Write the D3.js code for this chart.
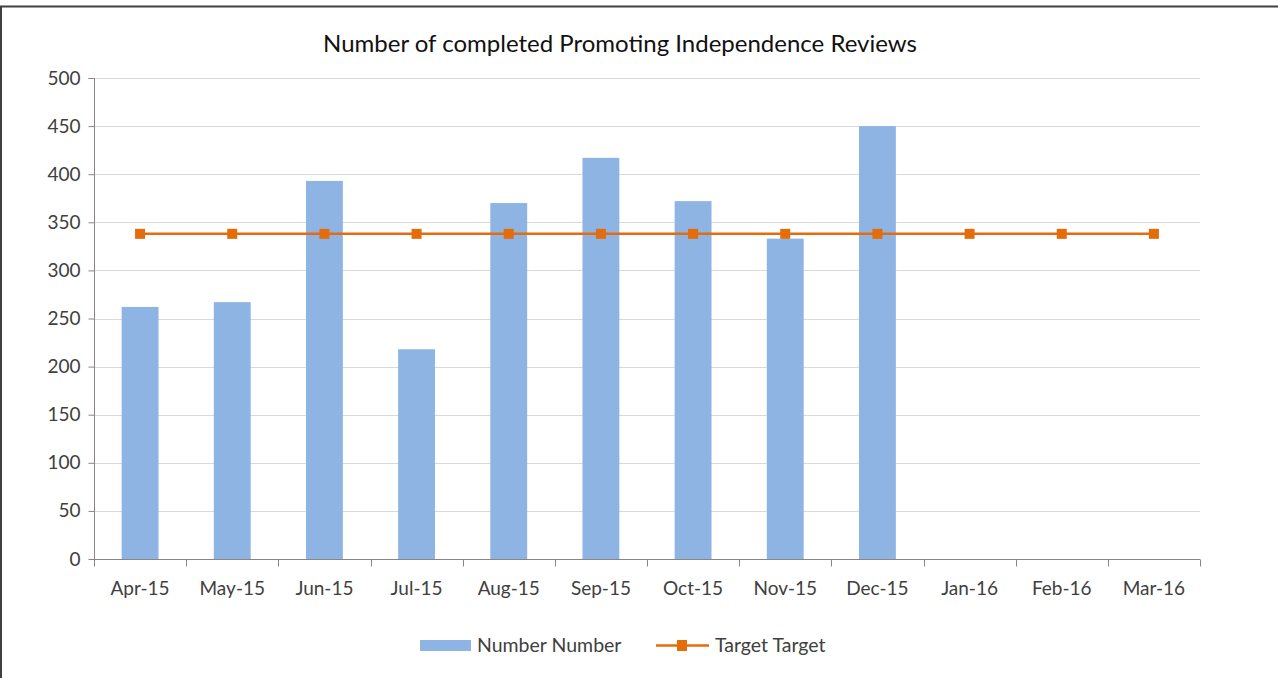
<!DOCTYPE html>
<html>
<head>
    <meta charset="utf-8" />
    <script src="https://d3js.org/d3.v7.min.js"></script>
    <style>
        body { margin: 0; background: #fff; }
        text { font-family: Lato, "Open Sans", sans-serif; fill: #404040; }
    </style>
</head>
<body>
<script>
    var months = ["Apr-15", "May-15", "Jun-15", "Jul-15", "Aug-15", "Sep-15", "Oct-15", "Nov-15", "Dec-15", "Jan-16", "Feb-16", "Mar-16"];
    var numbers = [262, 267, 393, 218, 370, 417, 372, 333, 450, null, null, null];
    var target = [338, 338, 338, 338, 338, 338, 338, 338, 338, 338, 338, 338];
    var yTicks = [0, 50, 100, 150, 200, 250, 300, 350, 400, 450, 500];

    var width = 1278, height = 678;
    var plotL = 94, plotR = 1200, plotT = 78, plotB = 559;

    var svg = d3.select("body").append("svg")
        .attr("width", width)
        .attr("height", height);

    // outer frame
    svg.append("path")
        .attr("d", "M1," + height + "V6.5H" + width)
        .attr("fill", "none")
        .attr("stroke", "#404040")
        .attr("stroke-width", 2);

    var x = d3.scaleBand().domain(months).range([plotL, plotR]).paddingInner(0).paddingOuter(0);
    var y = d3.scaleLinear().domain([0, 500]).range([plotB, plotT]);

    // gridlines
    svg.append("g").selectAll("line").data(yTicks.slice(1)).enter().append("line")
        .attr("x1", plotL).attr("x2", plotR)
        .attr("y1", function (d) { return Math.round(y(d)) + 0.5; })
        .attr("y2", function (d) { return Math.round(y(d)) + 0.5; })
        .attr("stroke", "#d9d9d9").attr("stroke-width", 1);

    // y axis
    var yAxis = svg.append("g")
        .attr("transform", "translate(" + (plotL + 0.5) + ",0)")
        .call(d3.axisLeft(y).tickValues(yTicks).tickSize(6).tickPadding(8));
    yAxis.selectAll("line, path").attr("stroke", "#868686");
    yAxis.select(".domain").attr("d", "M-6," + (plotT + 0.5) + "H0V" + plotB);
    yAxis.selectAll("text").attr("font-size", 19).style("font-family", "Lato, sans-serif").attr("fill", "#404040");

    // bars
    var barW = x.bandwidth() / 2.5;
    svg.append("g").selectAll("rect").data(months.map(function (m, i) { return { m: m, v: numbers[i] }; })
        .filter(function (d) { return d.v != null; }))
        .enter().append("rect")
        .attr("x", function (d) { return x(d.m) + (x.bandwidth() - barW) / 2; })
        .attr("y", function (d) { return y(d.v); })
        .attr("width", barW)
        .attr("height", function (d) { return y(0) - y(d.v); })
        .attr("fill", "#8eb4e3");

    // x axis
    var xAxis = svg.append("g").attr("transform", "translate(0," + (plotB + 0.5) + ")");
    xAxis.append("line").attr("x1", plotL).attr("x2", plotR).attr("stroke", "#868686");
    xAxis.selectAll(".tk").data(d3.range(months.length + 1)).enter().append("line")
        .attr("x1", function (i) { return Math.round(plotL + i * x.step()) + 0.5; })
        .attr("x2", function (i) { return Math.round(plotL + i * x.step()) + 0.5; })
        .attr("y1", 0).attr("y2", 7)
        .attr("stroke", "#868686");
    xAxis.selectAll("text").data(months).enter().append("text")
        .attr("x", function (d) { return x(d) + x.bandwidth() / 2; })
        .attr("y", 35)
        .attr("text-anchor", "middle")
        .attr("font-size", 19)
        .text(function (d) { return d; });

    // target line
    var line = d3.line()
        .x(function (d, i) { return x(months[i]) + x.bandwidth() / 2; })
        .y(function (d) { return y(d); });
    svg.append("path").datum(target)
        .attr("d", line)
        .attr("fill", "none")
        .attr("stroke", "#e46c0a")
        .attr("stroke-width", 2.5);
    svg.append("g").selectAll("rect").data(target).enter().append("rect")
        .attr("x", function (d, i) { return x(months[i]) + x.bandwidth() / 2 - 5; })
        .attr("y", function (d) { return y(d) - 5; })
        .attr("width", 10).attr("height", 10)
        .attr("fill", "#e46c0a");

    // title
    svg.append("text")
        .attr("x", 620).attr("y", 52)
        .attr("text-anchor", "middle")
        .attr("font-size", 24)
        .style("fill", "#111")
        .text("Number of completed Promoting Independence Reviews");

    // legend
    var lg = svg.append("g");
    lg.append("rect").attr("x", 420).attr("y", 640).attr("width", 51).attr("height", 11).attr("fill", "#8eb4e3");
    lg.append("text").attr("x", 477).attr("y", 652).attr("font-size", 19.5).text("Number Number");
    lg.append("line").attr("x1", 656).attr("x2", 709).attr("y1", 645.5).attr("y2", 645.5)
        .attr("stroke", "#e46c0a").attr("stroke-width", 2.5);
    lg.append("rect").attr("x", 677).attr("y", 640).attr("width", 10).attr("height", 11).attr("fill", "#e46c0a");
    lg.append("text").attr("x", 715).attr("y", 652).attr("font-size", 19.5).text("Target Target");
</script>
</body>
</html>
